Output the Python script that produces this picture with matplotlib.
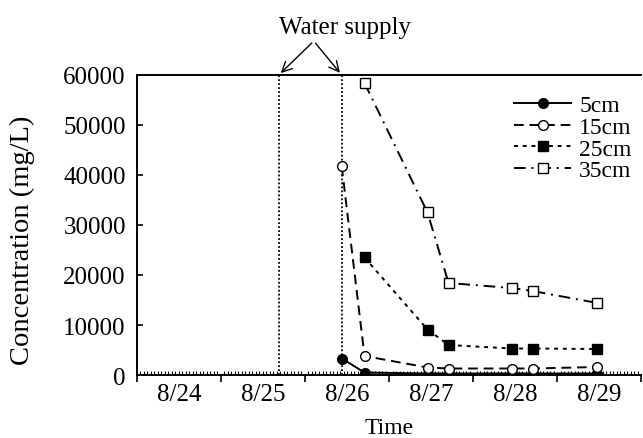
import matplotlib
matplotlib.use("Agg")
import matplotlib.pyplot as plt
import matplotlib.dates as mdates
import pandas as pd

plt.rcParams['font.family'] = ['Liberation Serif', 'DejaVu Serif']
plt.rcParams['font.size'] = 18

# sampling times
t_all = pd.to_datetime(["2023-08-26 10:30", "2023-08-26 17:00", "2023-08-27 11:00",
                        "2023-08-27 17:00", "2023-08-28 11:00", "2023-08-28 17:00",
                        "2023-08-29 11:30"])
t_late = t_all[1:]

c_5cm = [3300, 500, 300, 300, 300, 300, 300]
c_15cm = [41700, 3800, 1500, 1300, 1300, 1300, 1600]
c_25cm = [23500, 9100, 6000, 5300, 5300, 5200]
c_35cm = [58400, 32500, 18400, 17400, 16800, 14400]

water_supply = pd.to_datetime(["2023-08-25 16:30", "2023-08-26 10:30"])
day_labels = ["8/24", "8/25", "8/26", "8/27", "8/28", "8/29"]

fig = plt.figure(figsize=(6.43, 4.39), dpi=100)
ax = fig.add_axes([0.213, 0.1435, 0.784, 0.6834])

lw = 1.4
ax.plot(t_all, c_5cm, color='black', lw=lw, ls='-', marker='o', ms=7,
        mfc='black', label='5cm')
ax.plot(t_all, c_15cm, color='black', lw=lw, ls=(0, (5, 3)), marker='o', ms=7,
        mfc='white', label='15cm')
ax.plot(t_late, c_25cm, color='black', lw=lw, ls=(0, (2, 2.5)), marker='s', ms=7,
        mfc='black', label='25cm')
ax.plot(t_late, c_35cm, color='black', lw=lw, ls=(0, (6, 3, 1, 3)), marker='s', ms=7,
        mfc='white', label='35cm')

for t in water_supply:
    ax.axvline(t, color='black', lw=1.3, ls=(0, (1, 1.2)), zorder=1)

ax.set_xlim(pd.Timestamp("2023-08-24"), pd.Timestamp("2023-08-30"))
ax.set_ylim(0, 60000)
ax.set_yticks(range(0, 60001, 10000))

ax.xaxis.set_major_locator(mdates.DayLocator())
ax.xaxis.set_major_formatter(plt.NullFormatter())
ax.xaxis.set_minor_locator(mdates.HourLocator())
xt = ax.get_xaxis_transform()
# day labels centred at noon
for i, lab in enumerate(day_labels):
    x = mdates.date2num(pd.Timestamp("2023-08-24 12:00") + pd.Timedelta(days=i))
    ax.text(x, -0.025, lab, transform=xt, ha='center', va='top', fontsize=18)
ax.tick_params(axis='x', which='major', direction='out', length=5, width=1.2)
ax.tick_params(axis='x', which='minor', direction='in', length=3, width=0.8)
ax.tick_params(axis='y', which='major', direction='in', length=4, width=1.2, pad=8,
               labelsize=18)

ax.spines['right'].set_visible(False)
for s in ['left', 'bottom', 'top']:
    ax.spines[s].set_linewidth(1.4)

ax.set_xlabel("Time", fontsize=17, va='center')
ax.xaxis.set_label_coords(0.5, -0.175)
ax.set_ylabel("Concentration (mg/L)", fontsize=20.5, va='center')
ax.yaxis.set_label_coords(-0.228, 0.453)

ax.legend(loc='upper right', frameon=False, handlelength=2.4, handletextpad=0.35,
          labelspacing=0.0, fontsize=17, bbox_to_anchor=(1.0, 0.965), borderaxespad=0)

# arrows for water supply
arrow_from = mdates.date2num(pd.Timestamp("2023-08-26 02:30"))
for t in water_supply:
    ax.annotate("", xy=(mdates.date2num(t), 1.0), xytext=(arrow_from, 1.113),
                xycoords=xt, textcoords=xt,
                arrowprops=dict(arrowstyle='->', color='black', lw=1), annotation_clip=False)
ax.text(mdates.date2num(pd.Timestamp("2023-08-26 11:30")), 1.16, "Water supply",
        ha='center', va='center', transform=xt, fontsize=18)

fig.savefig("out.png", dpi=100)
